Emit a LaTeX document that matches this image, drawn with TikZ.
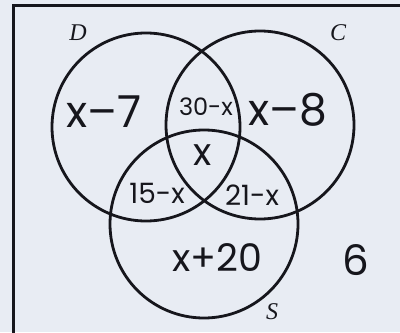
\documentclass[tikz,border=0pt]{standalone}
\usepackage{fontspec}
\newfontfamily\handfont{Poppins}
\newfontfamily\setfont{Liberation Serif}
\usetikzlibrary{positioning}
\definecolor{paperblue}{RGB}{232, 236, 243}
\definecolor{inkblack}{RGB}{22, 22, 28}
\tikzset{
  vset/.style={
    circle, draw=inkblack, line width=1.4pt,
    minimum size=94pt, inner sep=0pt
  },
  region/.style={font=\handfont\fontsize{#1}{#1}\selectfont, text=inkblack, inner sep=0pt},
  region/.default=14,
  setname/.style={font=\setfont\itshape\fontsize{12}{12}\selectfont, text=inkblack}
}

\begin{document}
\begin{tikzpicture}[x=0.5pt, y=0.5pt]

% Fondo y marco (recortado a derecha y abajo)
\fill[paperblue] (0,0) rectangle (400,332);
\useasboundingbox (0,0) rectangle (400,332);
\clip (0,0) rectangle (400,332);
\draw[inkblack, line width=1.5pt] (13,-20) rectangle (420,326);

% Conjuntos D, C, S
\node[vset] (setD) at (146,205) {};
\node[vset] (setC) at (260,207) {};
\node[vset] (setS) at (204,108) {};

\node[setname] (nameD) at (78,299) {D};
\node[setname] (nameC) at (338,299) {C};
\node[setname] (nameS) at (272,20) {S};

% Regiones
\node[region=22] (onlyD) at (104,220) {x–7};
\node[region=22] (onlyC) at (288,222) {x–8};
\node[region=12] (DC) at (206,225) {30-x};
\node[region=19] (DCS) at (203,177) {x};
\node[region=14] (DS) at (157,139) {15-x};
\node[region=14] (CS) at (252,137) {21-x};
\node[region=19] (onlyS) at (217,74) {x+20};
\node[region=21] (none) at (356,72) {6};

\end{tikzpicture}
\end{document}
